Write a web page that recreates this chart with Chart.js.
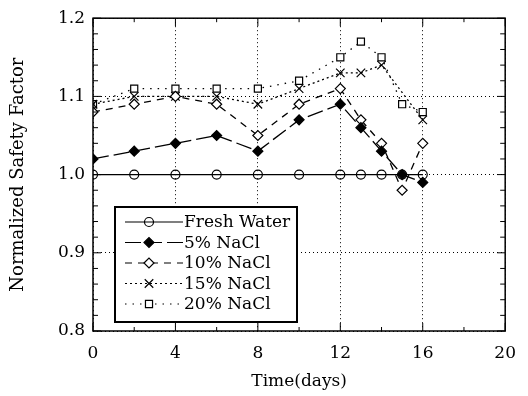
<!DOCTYPE html>
<html>
<head>
<meta charset="utf-8">
<script src="https://cdn.jsdelivr.net/npm/chart.js@4"></script>
<style>
  html, body { margin: 0; padding: 0; background: #fff; }
  #wrap { width: 528px; height: 396px; }
</style>
</head>
<body>
<div id="wrap"><canvas id="myChart" width="528" height="396"></canvas></div>
<script>
// datos
const days = [0, 2, 4, 6, 8, 10, 12, 13, 14, 15, 16];
const freshWater = [1.00, 1.00, 1.00, 1.00, 1.00, 1.00, 1.00, 1.00, 1.00, 1.00, 1.00];
const nacl5 = [1.02, 1.03, 1.04, 1.05, 1.03, 1.07, 1.09, 1.06, 1.03, 1.00, 0.99];
const nacl10 = [1.08, 1.09, 1.10, 1.09, 1.05, 1.09, 1.11, 1.07, 1.04, 0.98, 1.04];
const nacl15 = [1.09, 1.10, 1.10, 1.10, 1.09, 1.11, 1.13, 1.13, 1.14, null, 1.07];
const nacl20 = [1.09, 1.11, 1.11, 1.11, 1.11, 1.12, 1.15, 1.17, 1.15, 1.09, 1.08];
const seriesLabels = ['Fresh Water', '5% NaCl', '10% NaCl', '15% NaCl', '20% NaCl'];
const xTicks = [0, 4, 8, 12, 16, 20];
const yTicks = [0.8, 0.9, 1.0, 1.1, 1.2];

const FONT = 'DejaVu Serif';

function pts(values) {
    return days.map((d, i) => ({ x: d, y: values[i] })).filter(p => p.y !== null);
}

function ds(label, values, style, fill, dash) {
    return {
        label: label,
        data: pts(values),
        borderColor: '#000',
        borderWidth: 1.3,
        borderDash: dash,
        pointStyle: style,
        pointRadius: style === 'crossRot' ? 6 : (style === 'circle' ? 4.5 : 5),
        pointBorderColor: '#000',
        pointBorderWidth: 1.2,
        pointBackgroundColor: fill,
        fill: false,
        tension: 0,
        spanGaps: true
    };
}

// marco con marcas hacia adentro y leyenda dentro del area
const framePlugin = {
    id: 'frame',
    afterDraw(chart) {
        const ctx = chart.ctx;
        const a = chart.chartArea;
        const xs = chart.scales.x, ys = chart.scales.y;
        ctx.save();
        ctx.strokeStyle = '#000';
        ctx.lineWidth = 1.5;
        ctx.strokeRect(a.left, a.top, a.right - a.left, a.bottom - a.top);
        ctx.lineWidth = 1;
        for (let v = 0.8; v <= 1.2001; v += 0.02) {
            const y = ys.getPixelForValue(v);
            const major = Math.abs(v * 10 - Math.round(v * 10)) < 1e-6;
            const len = major ? 8 : 5;
            ctx.beginPath();
            ctx.moveTo(a.left, y); ctx.lineTo(a.left + len, y);
            ctx.moveTo(a.right, y); ctx.lineTo(a.right - len, y);
            ctx.stroke();
        }
        for (let v = 0; v <= 20; v += 2) {
            const x = xs.getPixelForValue(v);
            const len = v % 4 === 0 ? 8 : 4;
            ctx.beginPath();
            ctx.moveTo(x, a.bottom); ctx.lineTo(x, a.bottom - len);
            ctx.moveTo(x, a.top); ctx.lineTo(x, a.top + len);
            ctx.stroke();
        }

        // leyenda
        const bx = 115, by = 207, bw = 182, bh = 115;
        ctx.fillStyle = '#fff';
        ctx.fillRect(bx, by, bw, bh);
        ctx.lineWidth = 2;
        ctx.strokeRect(bx, by, bw, bh);
        ctx.font = '17px "' + FONT + '"';
        ctx.textBaseline = 'middle';
        chart.data.datasets.forEach((d, i) => {
            const y = by + 15 + i * 20.5;
            ctx.lineWidth = 1.2;
            ctx.setLineDash(d.borderDash || []);
            ctx.beginPath();
            ctx.moveTo(bx + 10, y); ctx.lineTo(bx + 68, y);
            ctx.stroke();
            ctx.setLineDash([]);
            ctx.fillStyle = d.pointBackgroundColor;
            Chart.helpers.drawPoint(ctx, {
                pointStyle: d.pointStyle,
                radius: d.pointRadius,
                borderWidth: 1.2,
                rotation: 0
            }, bx + 34, y);
            ctx.fillStyle = '#000';
            ctx.fillText(d.label, bx + 69, y + 1);
        });
        ctx.restore();
    }
};

const ctx = document.getElementById('myChart').getContext('2d');
const chart = new Chart(ctx, {
    type: 'line',
    data: {
        datasets: [
            ds(seriesLabels[0], freshWater, 'circle', 'rgba(255,255,255,0)', []),
            ds(seriesLabels[1], nacl5, 'rectRot', '#000', [16, 5]),
            ds(seriesLabels[2], nacl10, 'rectRot', '#fff', [7, 6]),
            ds(seriesLabels[3], nacl15, 'crossRot', '#fff', [2, 3]),
            ds(seriesLabels[4], nacl20, 'rect', '#fff', [1.5, 6])
        ]
    },
    options: {
        responsive: false,
        animation: false,
        layout: { padding: { top: 17, right: 15, left: 0, bottom: 0 } },
        plugins: {
            legend: { display: false },
            tooltip: { enabled: false }
        },
        scales: {
            x: {
                type: 'linear',
                min: 0,
                max: 20,
                afterFit: s => { s.height = 65; },
                afterBuildTicks: s => { s.ticks = xTicks.map(v => ({ value: v })); },
                grid: { color: '#000', lineWidth: 1, drawTicks: false },
                border: { display: false, dash: [1, 3] },
                ticks: { color: '#000', padding: 12, font: { family: FONT, size: 17 } },
                title: {
                    display: true,
                    text: 'Time(days)',
                    color: '#000',
                    padding: { top: 6 },
                    font: { family: FONT, size: 17 }
                }
            },
            y: {
                min: 0.8,
                max: 1.2,
                afterFit: s => { s.width = 93; },
                afterBuildTicks: s => { s.ticks = yTicks.map(v => ({ value: v })); },
                grid: { color: '#000', lineWidth: 1, drawTicks: false },
                border: { display: false, dash: [1, 3] },
                ticks: {
                    color: '#000',
                    padding: 8,
                    font: { family: FONT, size: 17 },
                    callback: v => v.toFixed(1)
                },
                title: {
                    display: true,
                    text: 'Normalized Safety Factor',
                    color: '#000',
                    padding: { top: 8, bottom: 6 },
                    font: { family: FONT, size: 18 }
                }
            }
        }
    },
    plugins: [framePlugin]
});
</script>
</body>
</html>
